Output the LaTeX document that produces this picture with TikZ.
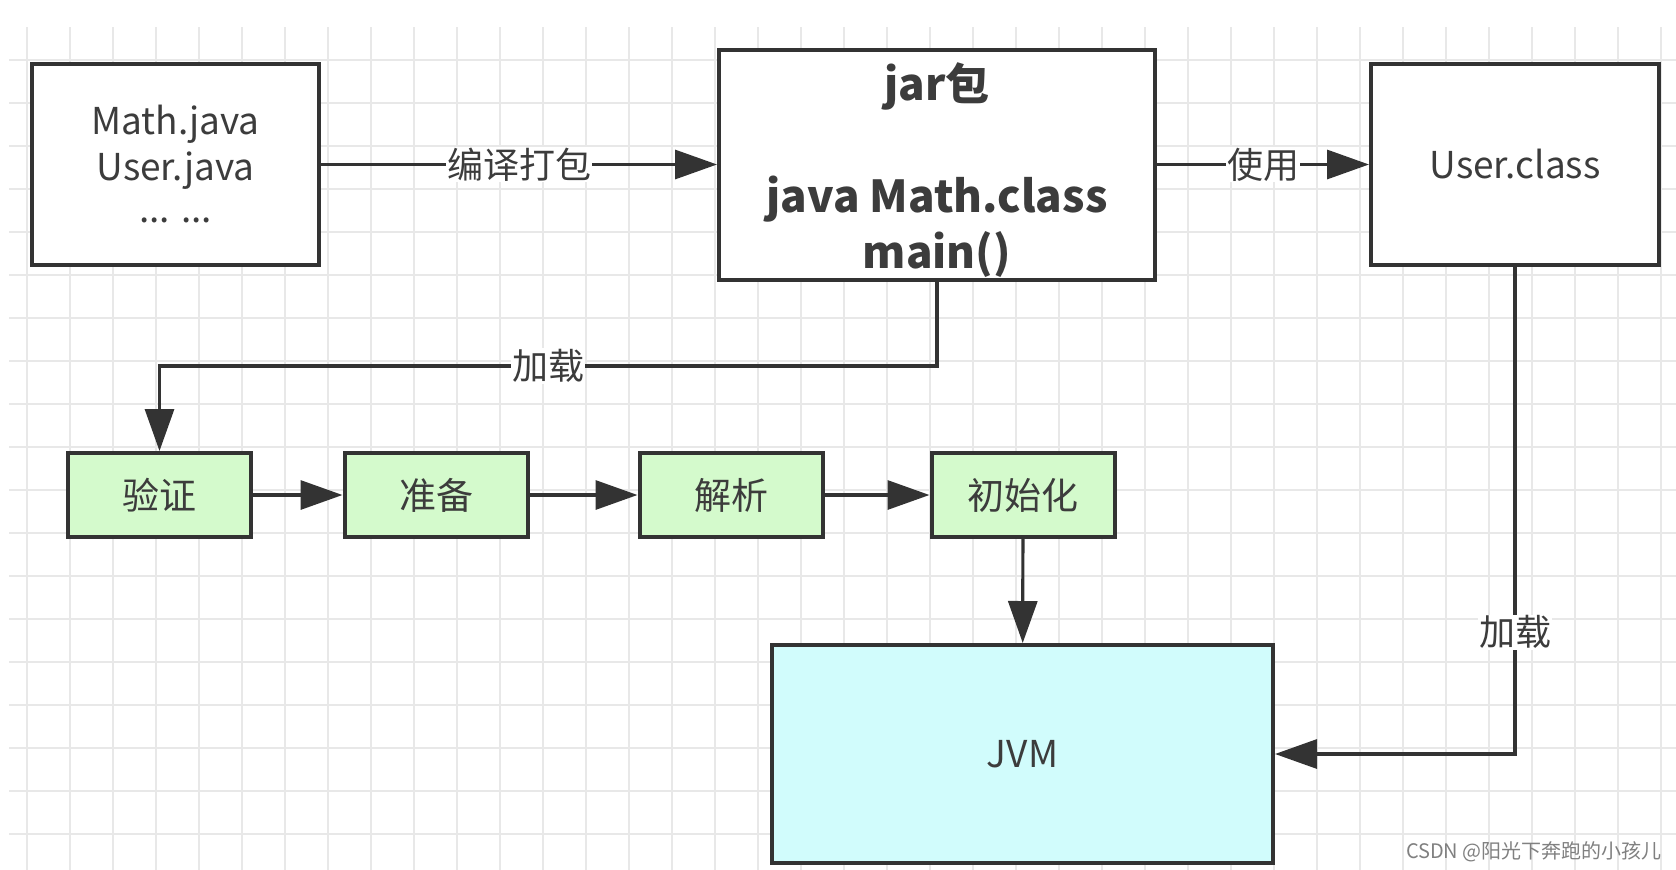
\documentclass[tikz,border=0pt]{standalone}
\usepackage{fontspec}
\setmainfont{Noto Sans CJK SC}
\usetikzlibrary{arrows.meta}
\definecolor{ink}{HTML}{333333}
\definecolor{txt}{HTML}{3C3C3C}
\definecolor{gridc}{HTML}{E8E8E8}
\definecolor{greenf}{HTML}{D4FACC}
\definecolor{cyanf}{HTML}{D1FCFC}
\tikzset{
  box/.style={draw=ink, line width=4pt, fill=white, text=txt, align=center,
    font=\fontsize{37}{46}\selectfont, inner sep=0pt},
  stage/.style={box, fill=greenf, minimum width=183pt, minimum height=84pt},
  conn/.style={draw=ink, line width=3.2pt, -{Triangle[length=42pt,width=29pt]}},
  lbl/.style={fill=white, text=txt, inner sep=1pt, font=\fontsize{36}{40}\selectfont}
}
\begin{document}
\begin{tikzpicture}[x=1pt,y=-1pt]
\useasboundingbox (0,0) rectangle (1676,870);
% grid
\foreach \gx in {27,70,...,1676} \draw[gridc, line width=1.6pt] (\gx,27) -- (\gx,870);
\foreach \gy in {60,103,...,870} \draw[gridc, line width=1.6pt] (9,\gy) -- (1676,\gy);
% nodes
\node[box, minimum width=287pt, minimum height=201pt] (src) at (175.5,164.5)
  {Math.java\\User.java\\[-4pt]... ...};
\node[box, minimum width=436pt, minimum height=230pt] (jar) at (937,164.5) {};
\node[text=txt, align=center, inner sep=0pt, font=\fontsize{44}{56}\selectfont\bfseries] (jart) at (937,170)
  {jar包\\ \\java Math.class\\main()};
\node[box, minimum width=288pt, minimum height=201pt] (uc) at (1515,164.5) {User.class};
\node[stage] (yz) at (159.5,495) {验证};
\node[stage] (zb) at (436,495) {准备};
\node[stage] (jx) at (731,495) {解析};
\node[stage] (csh) at (1023,495) {初始化};
\node[box, fill=cyanf, minimum width=501pt, minimum height=218pt] (jvm) at (1022.5,754) {JVM};
\coordinate (k1) at (937,366);
% connectors
\draw[conn] (src.east) -- node[lbl] {编译打包} (jar.west);
\draw[conn] (jar.east) -- node[lbl] {使用} (uc.west);
\draw[conn] (jar.south) -- (k1) -| node[lbl, pos=0.25] {加载} (yz.north);
\draw[conn] (yz) -- (zb);
\draw[conn] (zb) -- (jx);
\draw[conn] (jx) -- (csh);
\draw[conn] (csh) -- (jvm);
\draw[conn] (uc.south) |- node[lbl, pos=0.375] {加载} (jvm.east);
% watermark
\node[text=gray, font=\fontsize{20}{22}\selectfont, anchor=east, inner sep=0pt] (wm) at (1662,852) {CSDN @阳光下奔跑的小孩儿};
\end{tikzpicture}
\end{document}
